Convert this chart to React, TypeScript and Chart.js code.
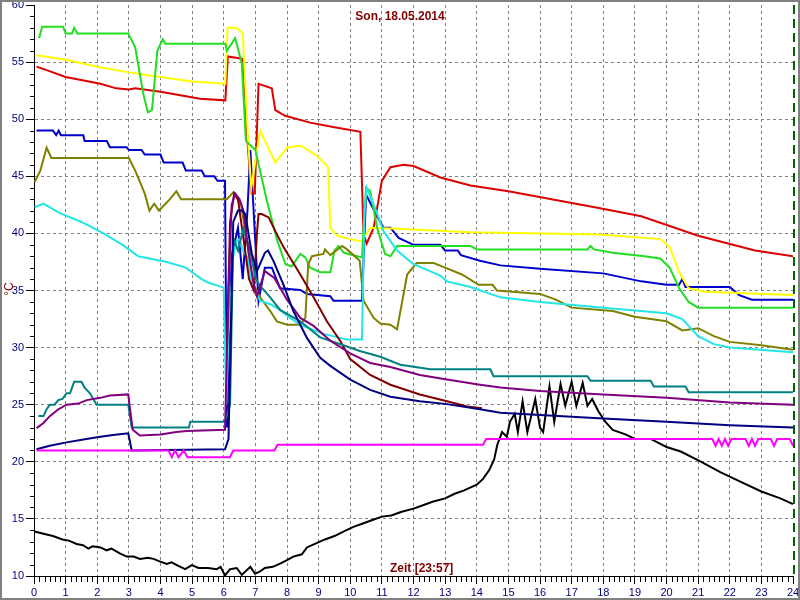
import React, { useEffect, useRef } from "react";
import { Chart, registerables } from "chart.js";

Chart.register(...registerables);

const TITLE = "Son, 18.05.2014";
const X_TITLE = "Zeit [23:57]";
const Y_TITLE = "°C";
const NOW_HOUR = 24;

type P = [number, number];

const green: P[] = [[0.16,57.1],[0.26,58.1],[0.92,58.1],[1.0,57.5],[1.2,57.5],[1.27,58.0],[1.37,57.5],[2.98,57.5],[3.2,56.3],[3.45,52.3],[3.6,50.6],[3.73,50.8],[3.9,56],[4.07,57],[4.15,56.6],[6.05,56.6],[6.1,56],[6.36,57.1],[6.57,54.9],[6.7,48.1],[7.0,47.3],[7.36,42.9],[7.7,39.3],[7.95,37.3],[8.15,37.1],[8.42,38.2],[8.58,37.9],[8.73,37],[9.05,36.6],[9.37,36.6],[9.5,38.5],[9.63,38.9],[9.8,38.3],[10.37,37.9],[10.5,44],[10.63,43.7],[10.85,40.5],[11.1,38.2],[11.27,38.0],[11.48,38.9],[13.8,38.9],[14,38.6],[17.5,38.6],[17.6,38.9],[17.7,38.6],[18.3,38.3],[19.3,38.0],[19.8,37.8],[20.1,37.0],[20.4,35.2],[20.7,34.0],[21.0,33.5],[24,33.5]];

const yellow: P[] = [[0.08,55.6],[1,55.2],[2,54.6],[3,54.1],[4,53.7],[5,53.3],[6.05,53.1],[6.12,58],[6.4,58],[6.6,57.5],[6.77,48.1],[6.87,44],[7.15,49],[7.63,46.2],[8.0,47.5],[8.42,47.7],[8.95,46.8],[9.3,45.8],[9.37,40.5],[9.58,39.8],[10,39.5],[10.37,39.3],[10.63,40.5],[11.5,40.4],[13.8,40.1],[17.9,39.9],[19.8,39.5],[20.1,38.8],[20.4,36.6],[20.7,35.2],[21.2,34.9],[24,34.6]];

const red: P[] = [[0.08,54.6],[0.4,54.3],[1,53.7],[2.1,53.1],[2.6,52.7],[3.0,52.6],[3.2,52.7],[4,52.4],[5.25,51.8],[6.05,51.65],[6.13,55.5],[6.57,55.3],[6.62,54.9],[6.75,48],[6.88,43.5],[6.98,43.5],[7.1,53.1],[7.52,52.7],[7.63,50.8],[7.94,50.3],[8.73,49.7],[9.5,49.3],[10.32,48.9],[10.42,40],[10.52,39.1],[10.74,40.5],[11.0,44.6],[11.27,45.8],[11.69,46.0],[12.0,45.9],[12.85,44.9],[13.8,44.2],[15,43.7],[17.9,42.2],[19.2,41.5],[21,39.8],[22.8,38.5],[24,38.0]];

const blue: P[] = [[0.08,49],[0.6,49],[0.7,48.6],[0.78,49],[0.85,48.6],[1.56,48.6],[1.6,48.1],[2.3,48.1],[2.4,47.55],[2.93,47.55],[3.0,47.3],[3.4,47.3],[3.5,46.9],[4,46.9],[4.1,46.2],[4.7,46.2],[4.8,45.5],[5.3,45.5],[5.4,45],[5.7,45],[5.8,44.6],[6.04,44.6],[6.1,23],[6.25,38],[6.45,40.5],[6.6,36],[6.75,42],[6.84,47.3],[7.1,34.1],[7.3,37],[7.52,37],[7.78,35.2],[8.42,35.05],[8.63,34.7],[9.37,34.5],[9.47,34.1],[10.37,34.1],[10.5,43.4],[10.85,41.5],[11.05,40.5],[11.27,40.5],[11.53,39.6],[12,39],[12.85,39],[13,38.5],[13.4,38.5],[13.5,38.1],[14.1,37.6],[14.75,37.2],[16,36.9],[18,36.5],[19.2,35.8],[20,35.5],[20.4,35.5],[20.5,36],[20.6,35.3],[22,35.3],[22.3,34.6],[22.7,34.2],[24,34.2]];

const olive: P[] = [[0.02,44.5],[0.2,45.5],[0.4,47.5],[0.55,46.6],[3.0,46.6],[3.2,45.5],[3.5,43.5],[3.65,42],[3.8,42.6],[3.95,42],[4.3,43],[4.5,43.7],[4.65,43],[6.0,43],[6.1,43],[6.3,43.6],[6.55,42.5],[6.75,39],[6.9,35.8],[7.15,34.4],[7.47,33.2],[7.68,32.3],[8.0,32],[8.42,32],[8.58,32.6],[8.67,37.3],[8.79,38],[9.15,38.2],[9.2,38.6],[9.37,38.1],[9.74,38.9],[9.9,38.6],[10.3,37.6],[10.42,34.1],[10.74,32.6],[10.95,32.1],[11.27,32],[11.48,31.6],[11.8,36.4],[12.1,37.4],[12.64,37.4],[13.0,37],[13.53,36.4],[14.06,35.5],[14.5,35.5],[14.64,35],[16,34.7],[16.5,34.2],[17,33.5],[18.3,33.2],[19,32.7],[20,32.3],[20.5,31.5],[21,31.7],[21.5,31],[22,30.5],[23,30.2],[24,29.8]];

const cyan: P[] = [[0.02,42.3],[0.3,42.6],[0.8,41.8],[1.5,41],[2.2,40],[2.8,39],[3.3,38],[4.2,37.5],[4.8,37],[5.3,36],[5.5,35.7],[6.0,35.25],[6.08,25],[6.15,31],[6.3,38],[6.4,39.3],[6.5,39.5],[6.6,38.5],[6.75,37.9],[6.9,35.5],[7.15,34.1],[7.47,33.8],[7.78,33.3],[8.1,32.6],[8.42,32],[9.15,31.2],[9.9,30.7],[10.37,30.7],[10.45,42],[10.52,44],[10.8,42.1],[11.05,40.2],[11.48,38.5],[12,37.3],[12.85,36.3],[13.06,35.8],[13.8,35.3],[14.75,34.4],[16,34],[18,33.5],[20,33],[20.5,32.5],[21,31],[21.5,30.3],[22,30],[24,29.6]];

const teal: P[] = [[0.14,24],[0.3,24],[0.4,24.6],[0.5,25],[0.65,25],[0.77,25.4],[0.9,25.5],[1.03,26],[1.14,26],[1.27,27],[1.5,27],[1.6,26.5],[1.77,26],[1.98,25],[2.98,25],[3.09,23],[4.9,23],[4.94,23.5],[6.04,23.5],[6.2,25],[6.3,39.6],[6.45,38.5],[6.62,40.4],[6.84,38.5],[7.0,36.1],[7.15,35.4],[7.47,34.4],[7.78,33.3],[8.1,32.8],[8.42,32.3],[9.05,30.9],[9.9,30.1],[10.3,29.7],[10.95,29.2],[11.58,28.5],[12.53,28.1],[14.43,28.1],[14.53,27.5],[17.5,27.5],[17.6,27.1],[19.5,27.1],[19.6,26.6],[20.6,26.6],[20.7,26.1],[24,26.1]];

const purple: P[] = [[0.08,22.95],[0.3,23.4],[0.5,24],[0.77,24.6],[1.03,25],[1.4,25.1],[1.67,25.4],[2.1,25.6],[2.4,25.8],[2.98,25.9],[3.12,22.8],[3.35,22.3],[4.0,22.4],[4.5,22.6],[4.83,22.7],[6.04,22.8],[6.15,35],[6.25,42.5],[6.36,43.5],[6.5,43],[6.62,42],[6.78,38.5],[6.95,35.5],[7.05,34.5],[7.3,36.7],[7.6,36.1],[8.0,34.2],[8.42,32.6],[8.84,31.9],[9.37,30.6],[10.0,29.5],[10.63,28.65],[11.27,28.3],[12.2,27.6],[13.06,27.2],[14.1,26.75],[14.75,26.5],[16,26.2],[18,25.9],[20,25.6],[22,25.2],[24,25]];

const navy: P[] = [[0.08,21.1],[0.5,21.4],[1.03,21.7],[1.56,21.95],[2.1,22.2],[2.5,22.35],[2.98,22.5],[3.09,21],[6.04,21.1],[6.15,22],[6.3,41],[6.45,42],[6.57,42],[6.68,41.7],[6.89,38.2],[7.05,36.7],[7.3,38.3],[7.4,38.5],[7.57,37.6],[7.89,35.5],[8.2,33.2],[8.63,30.85],[9.05,29.1],[9.37,28.4],[10,27.2],[10.63,26.3],[11.27,25.7],[12.2,25.3],[13.06,25.05],[14.1,24.6],[14.75,24.3],[16,24.1],[18,23.8],[20,23.5],[22,23.2],[24,23]];

const maroon: P[] = [[6.1,30],[6.2,41],[6.33,43.5],[6.45,43],[6.6,40],[6.8,36],[6.95,35],[7.05,40],[7.1,41.7],[7.2,41.7],[7.42,41.4],[7.63,40.2],[7.89,38.8],[8.42,36.4],[8.84,34.4],[9.26,32.3],[9.68,30.6],[10,29],[10.63,27.6],[11.27,26.75],[12.2,25.9],[13.06,25.3],[13.7,24.85],[14.17,24.7]];

const magenta: P[] = [[0.08,21],[4.25,21],[4.36,20.4],[4.46,21],[4.57,20.4],[4.73,21],[4.85,20.4],[6.2,20.4],[6.3,21],[7.6,21],[7.7,21.5],[14.2,21.5],[14.3,22],[21.45,22],[21.55,21.4],[21.65,22],[21.75,21.4],[21.85,22],[21.95,21.4],[22.05,22],[22.5,22],[22.6,21.4],[22.7,22],[22.8,21.4],[22.9,22],[23.3,22],[23.4,21.4],[23.5,22],[23.9,22],[24,21.4]];

const black: P[] = [[0.02,13.9],[0.3,13.7],[0.6,13.5],[0.9,13.2],[1.1,13.1],[1.35,12.8],[1.55,12.7],[1.72,12.4],[1.85,12.6],[2.1,12.5],[2.3,12.25],[2.45,12.4],[2.7,12.0],[2.93,11.7],[3.15,11.7],[3.35,11.5],[3.6,11.6],[3.78,11.5],[3.95,11.3],[4.2,11.05],[4.35,11.2],[4.55,10.9],[4.78,10.6],[4.99,10.95],[5.2,10.7],[5.5,10.7],[5.78,10.6],[5.9,10.8],[6.04,10.05],[6.2,10.6],[6.41,10.7],[6.57,10.1],[6.84,10.8],[6.99,10.2],[7.15,10.4],[7.3,10.7],[7.55,10.8],[7.8,11.1],[8.0,11.4],[8.2,11.7],[8.47,11.9],[8.63,12.5],[8.95,12.9],[9.2,13.2],[9.5,13.5],[9.8,13.9],[10.1,14.3],[10.4,14.6],[10.7,14.9],[11,15.2],[11.3,15.3],[11.6,15.6],[12,15.9],[12.3,16.2],[12.6,16.5],[13,16.8],[13.3,17.2],[13.6,17.5],[14,18],[14.2,18.5],[14.4,19.3],[14.55,20.2],[14.65,21.5],[14.8,22.6],[14.95,22.2],[15.05,23.5],[15.2,24.2],[15.3,22.6],[15.45,25.3],[15.6,22.6],[15.85,25.5],[16.0,23],[16.1,22.6],[16.3,26.6],[16.45,23.5],[16.65,26.8],[16.8,24.9],[17.0,27],[17.15,24.9],[17.35,26.9],[17.5,24.9],[17.65,25.5],[17.85,24.4],[18.07,23.5],[18.3,22.8],[18.7,22.4],[19,22],[19.5,22],[20,21.3],[20.45,20.9],[21.1,20],[21.7,19.1],[22.3,18.3],[23,17.4],[23.6,16.8],[24,16.3]];

const SERIES: { name: string; pts: P[]; color: string }[] = [
  { name: "magenta", pts: magenta, color: "#ff00ff" },
  { name: "navy", pts: navy, color: "#000080" },
  { name: "purple", pts: purple, color: "#800080" },
  { name: "teal", pts: teal, color: "#008080" },
  { name: "maroon", pts: maroon, color: "#800000" },
  { name: "cyan", pts: cyan, color: "#22e6e6" },
  { name: "olive", pts: olive, color: "#808000" },
  { name: "green", pts: green, color: "#22dd22" },
  { name: "yellow", pts: yellow, color: "#ffff00" },
  { name: "red", pts: red, color: "#dd0000" },
  { name: "blue", pts: blue, color: "#0000cc" },
  { name: "black", pts: black, color: "#000000" },
];

const FONT = "'Liberation Sans', Arial, sans-serif";

const decorPlugin = {
  id: "decor",
  beforeDatasetsDraw(chart: any) {
    const { ctx, chartArea, scales } = chart;
    const x = scales.x.getPixelForValue(NOW_HOUR) + 1;
    ctx.save();
    ctx.strokeStyle = "#006400";
    ctx.lineWidth = 2;
    ctx.setLineDash([9, 5]);
    ctx.beginPath();
    ctx.moveTo(x, chartArea.top);
    ctx.lineTo(x, chartArea.bottom);
    ctx.stroke();
    ctx.restore();
  },
  afterDraw(chart: any) {
    const { ctx, chartArea, scales } = chart;
    const xs = scales.x;
    const ys = scales.y;
    ctx.save();
    ctx.strokeStyle = "#000";
    ctx.lineWidth = 1;
    ctx.beginPath();
    for (let v = 10; v <= 60; v++) {
      if (v % 5 === 0) continue;
      const py = Math.round(ys.getPixelForValue(v)) + 0.5;
      ctx.moveTo(chartArea.left - 4, py);
      ctx.lineTo(chartArea.left, py);
    }
    for (let i = 0; i <= 24 * 6; i++) {
      if (i % 6 === 0) continue;
      const px = Math.round(xs.getPixelForValue(i / 6)) + 0.5;
      ctx.moveTo(px, chartArea.bottom);
      ctx.lineTo(px, chartArea.bottom + 6);
    }
    ctx.stroke();

    ctx.fillStyle = "#800000";
    ctx.font = `bold 12px ${FONT}`;
    ctx.textAlign = "center";
    ctx.textBaseline = "middle";
    ctx.fillText(TITLE, 400, 17);
    ctx.textAlign = "left";
    ctx.fillText(X_TITLE, 390, 569);
    ctx.save();
    ctx.translate(10, 289);
    ctx.rotate(-Math.PI / 2);
    ctx.textAlign = "center";
    ctx.font = `12px ${FONT}`;
    ctx.fillText(Y_TITLE, 0, 0);
    ctx.restore();

    ctx.strokeStyle = "#808080";
    ctx.lineWidth = 2;
    ctx.strokeRect(1, 1, chart.width - 2, chart.height - 2);
    ctx.restore();
  },
};

export default function App() {
  const ref = useRef<HTMLCanvasElement | null>(null);
  useEffect(() => {
    document.body.style.margin = "0";
    if (!ref.current) return;
    const chart = new Chart(ref.current, {
      type: "line",
      data: {
        datasets: SERIES.map((s) => ({
          label: s.name,
          data: s.pts.map(([x, y]) => ({ x, y })),
          borderColor: s.color,
          backgroundColor: s.color,
          borderWidth: 2,
          pointRadius: 0,
          fill: false,
          tension: 0,
        })),
      },
      options: {
        animation: false,
        responsive: false,
        events: [],
        layout: { padding: { top: 5, right: 7, left: 0, bottom: 0 } },
        plugins: { legend: { display: false }, tooltip: { enabled: false }, title: { display: false } },
        scales: {
          x: {
            type: "linear",
            min: 0,
            max: 24,
            ticks: { stepSize: 1, autoSkip: false, maxRotation: 0, color: "#000080", padding: 2, font: { size: 11, family: FONT } },
            grid: {
              color: (c: any) => (c.tick && c.tick.value === 24 ? "rgba(0,0,0,0)" : "#808080"),
              tickColor: "#000",
              tickLength: 8,
              lineWidth: 1,
            },
            border: { display: true, color: "#000", width: 1, dash: [3, 3] },
            afterFit: (s: any) => { s.height = 24; s.paddingLeft = 0; s.paddingRight = 0; },
          },
          y: {
            type: "linear",
            min: 10,
            max: 60,
            ticks: { stepSize: 5, autoSkip: false, color: "#000080", padding: 2, font: { size: 11, family: FONT } },
            grid: {
              color: (c: any) => (c.tick && c.tick.value === 60 ? "rgba(0,0,0,0)" : "#808080"),
              tickColor: "#000",
              tickLength: 8,
              lineWidth: 1,
            },
            border: { display: true, color: "#000", width: 1, dash: [3, 3] },
            afterFit: (s: any) => { s.width = 34; s.paddingTop = 0; s.paddingBottom = 0; },
          },
        },
      },
      plugins: [decorPlugin],
    } as any);
    return () => chart.destroy();
  }, []);
  return (
    <div style={{ position: "absolute", left: 0, top: 0, width: 800, height: 600 }}>
      <canvas ref={ref} width={800} height={600} />
    </div>
  );
}
